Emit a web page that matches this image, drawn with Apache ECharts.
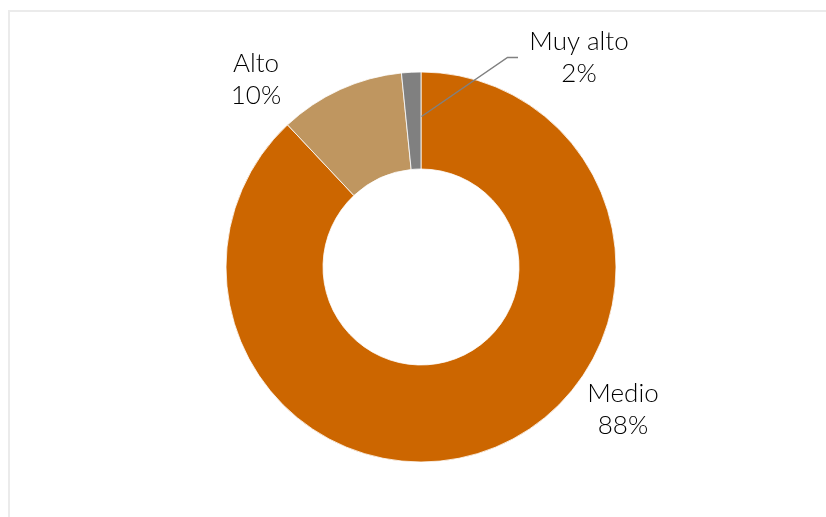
<!DOCTYPE html>
<html>
<head>
<meta charset="utf-8">
<script src="https://cdn.jsdelivr.net/npm/echarts@6/dist/echarts.min.js"></script>
<style>
html,body{margin:0;padding:0;background:#fff;}
#chart{width:826px;height:517px;}
</style>
</head>
<body>
<div id="chart"></div>
<script>
// Data
var categories = ['Medio', 'Alto', 'Muy alto'];
var values = [88.0, 10.4, 1.6];
var colors = ['#CC6600', '#BF9660', '#808080'];

// Label placement (layout only)
var labelPos = [
  {x: 623, y: 410},
  {x: 256, y: 80},
  {x: 579, y: 58}
];

var chart = echarts.init(document.getElementById('chart'), null, {renderer: 'canvas'});
var seriesData = categories.map(function (c, i) {
  return {name: c, value: values[i], itemStyle: {color: colors[i]}};
});

chart.setOption({
  animation: false,
  backgroundColor: '#ffffff',
  graphic: [{
    type: 'rect',
    shape: {x: 9, y: 11, width: 900, height: 600},
    style: {fill: 'none', stroke: '#ebebeb', lineWidth: 2},
    silent: true,
    z: 0
  }, {
    type: 'polyline',
    shape: {points: [[421.5, 116.5], [507.5, 57.5], [518, 57.5]]},
    style: {fill: 'none', stroke: '#808080', lineWidth: 1.5},
    silent: true,
    z: 100
  }],
  series: [{
    type: 'pie',
    center: [421, 267],
    radius: [98, 195],
    startAngle: 90,
    clockwise: true,
    data: seriesData,
    itemStyle: {borderColor: '#ffffff', borderWidth: 0.8},
    label: {
      show: true,
      position: 'outside',
      formatter: function (p) { return p.name + '\n' + Math.round(p.percent) + '%'; },
      fontFamily: 'Lato',
      fontWeight: 300,
      fontSize: 26,
      lineHeight: 32,
      color: '#000000',
      align: 'center'
    },
    labelLine: {show: false},
    labelLayout: function (params) {
      var i = params.dataIndex;
      return {
        x: labelPos[i].x,
        y: labelPos[i].y,
        align: 'center',
        verticalAlign: 'middle'
      };
    }
  }]
});
</script>
</body>
</html>
